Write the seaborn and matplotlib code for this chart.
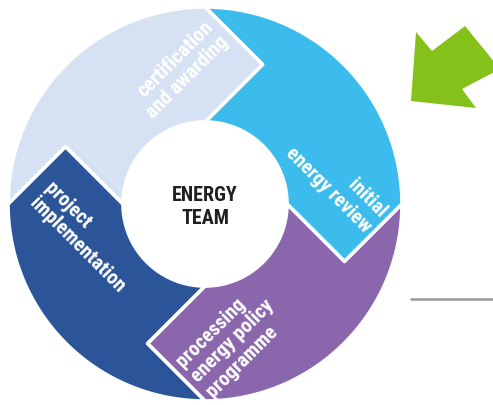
import numpy as np
import matplotlib.pyplot as plt
import seaborn as sns
from matplotlib.patches import Polygon

# cycle steps, clockwise from the top
steps = ["initial\nenergy review",
         "processing\nenergy policy\nprogramme",
         "project\nimplementation",
         "certification\nand awarding"]
shares = [1, 1, 1, 1]
step_colors = ["#3BBCEC", "#8A66AC", "#2C5599", "#D6E2F3"]
centre_label = "ENERGY\nTEAM"

sns.set_theme(style="white")
font = ["Roboto Condensed", "DejaVu Sans"]

fig = plt.figure(figsize=(4.93, 4.06), dpi=100)
ax = fig.add_axes([0, 0, 1, 1])
ax.set_xlim(0, 493)
ax.set_ylim(406, 0)
ax.axis("off")

cx, cy = 205, 205
R, r = 197, 82
m, h = (R + r) / 2, (R - r) / 2


def u(t):
    t = np.radians(t)
    return np.array([np.cos(t), -np.sin(t)])


def cw(t):
    t = np.radians(t)
    return np.array([np.sin(t), np.cos(t)])


def pt(rad, t, off=0.0):
    return np.array([cx, cy]) + rad * u(t) + off * cw(t)


# boundaries from the shares
bounds = 90 - 360 * np.concatenate([[0], np.cumsum(shares)]) / sum(shares)

for i, (lab, col) in enumerate(zip(steps, step_colors)):
    a, b = bounds[i], bounds[i + 1]
    ts = np.linspace(a, b, 80)
    pts = [pt(R, t) for t in ts]
    pts += [pt(m, b, h), pt(r, b)]
    pts += [pt(r, t) for t in ts[::-1]]
    pts += [pt(m, a, h)]
    ax.add_patch(Polygon(pts, closed=True, facecolor=col, edgecolor="white",
                         linewidth=2.6, joinstyle="round"))

# label placement (pixels), rotation, alignment
label_xy = [(336, 182), (233, 341), (85, 237), (180, 70)]
label_rot = [-45, 45, -45, 45]
label_align = ["right", "left", "left", "right"]
for lab, (x, y), rot, al in zip(steps, label_xy, label_rot, label_align):
    ax.text(x, y, lab, color="white", fontsize=14.5, fontweight="bold",
            family=font, fontstretch="condensed", rotation=rot,
            ha="center", va="center", multialignment=al,
            rotation_mode="anchor", linespacing=1.15)

ax.text(cx, cy + 2, centre_label, color="#231F20", fontsize=14.5,
        fontweight="bold", family=font, fontstretch="condensed",
        ha="center", va="center", linespacing=1.25)

# green arrow and grey rule on the right
arrow = [(411, 102), (416, 33), (432, 52), (465, 27), (500, 70),
         (462, 90), (476, 109)]
ax.add_patch(Polygon(arrow, closed=True, facecolor="#84C21B", edgecolor="none"))
ax.plot([411, 493], [300, 300], color="#999999", linewidth=1.8)

fig.savefig("out.png", dpi=100)
